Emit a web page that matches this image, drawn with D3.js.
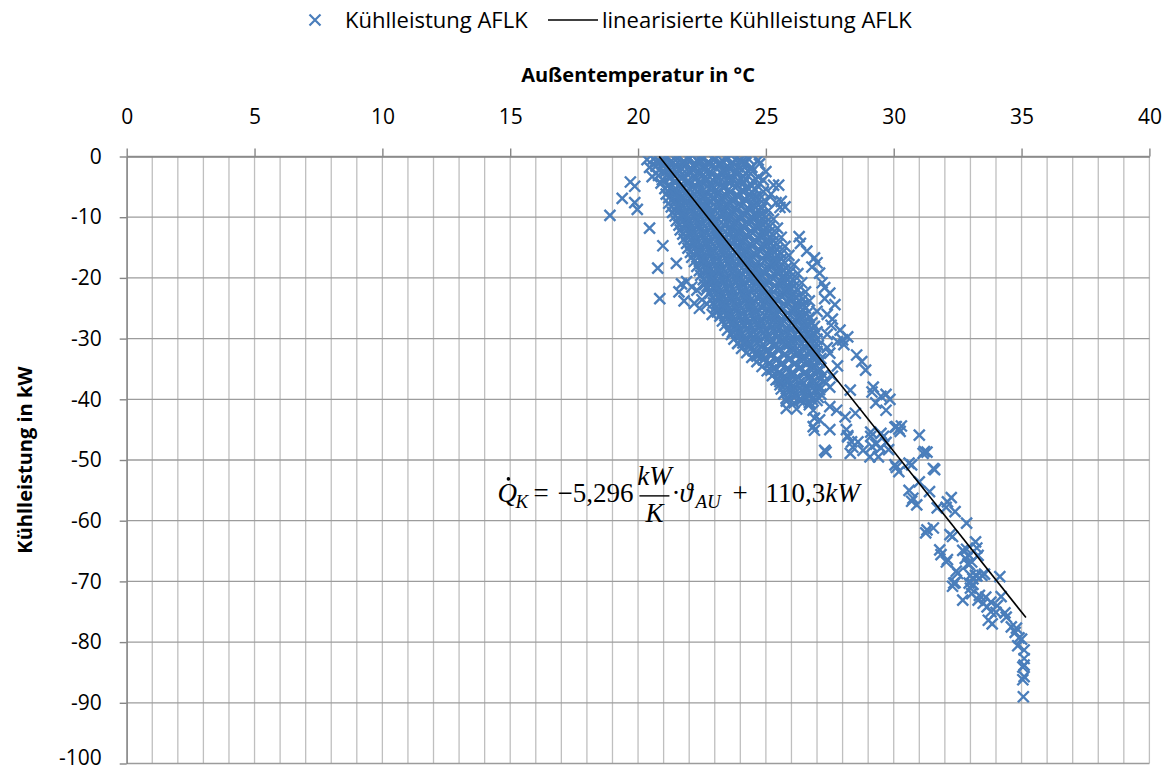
<!DOCTYPE html>
<html><head><meta charset="utf-8">
<script src="https://cdn.jsdelivr.net/npm/d3@7"></script>
<style>body{margin:0;background:#fff}</style>
</head><body><svg id="c" width="1171" height="773"></svg>
<script>
// ---------- data ----------
const xTicks = [0, 5, 10, 15, 20, 25, 30, 35, 40];
const yTicks = [0, -10, -20, -30, -40, -50, -60, -70, -80, -90, -100];
const seriesName = "Kühlleistung AFLK";
const trendName = "linearisierte Kühlleistung AFLK";
const xTitle = "Außentemperatur in °C";
const yTitle = "Kühlleistung in kW";
// regression line end points (temperature °C, power kW)
const trendTemp = [20.83, 35.17];
const trendPower = [0, -75.96];
// measured points [temperature °C, cooling power kW] – dense core
const densePoints = [
[20.35,-0.5],[20.6,-0.4],[20.85,-0.9],[21.1,-0.2],[21.3,-0.7],[21.55,-0.3],[21.8,-0.8],[22.0,-0.2],[22.3,-0.6],[22.5,-0.3],[22.75,-0.9],[23.0,-0.4],[23.3,-0.7],[23.5,-0.2],[23.8,-0.5],[24.05,-0.9],[24.3,-0.3],[24.7,-0.6],
[20.45,-1.8],[20.7,-1.6],[20.95,-1.2],[21.2,-1.9],[21.45,-1.4],[21.7,-2.0],[21.9,-1.3],[22.2,-1.7],[22.4,-1.1],[22.65,-1.8],[22.9,-1.5],[23.15,-1.2],[23.4,-1.9],[23.65,-1.4],[23.9,-1.7],[24.15,-1.2],[24.45,-1.8],
[20.55,-3.3],[20.8,-3.1],[21.05,-2.6],[21.3,-3.4],[21.55,-2.8],[21.8,-3.3],[22.05,-2.7],[22.3,-3.5],[22.55,-3.0],[22.8,-2.6],[23.05,-3.3],[23.3,-2.9],[23.55,-3.5],[23.8,-2.7],[24.1,-3.2],[24.4,-2.8],[24.7,-3.4],
[20.9,-4.4],[21.15,-4.9],[21.4,-4.2],[21.65,-4.7],[21.9,-4.3],[22.15,-5.0],[22.4,-4.5],[22.65,-4.1],[22.9,-4.8],[23.15,-4.4],[23.4,-5.0],[23.65,-4.2],[23.9,-4.7],[24.15,-4.3],[24.45,-4.9],[24.75,-4.4],
[21.1,-6.2],[21.35,-5.7],[21.6,-6.4],[21.85,-5.9],[22.1,-6.5],[22.35,-5.8],[22.6,-6.3],[22.85,-5.6],[23.1,-6.1],[23.35,-6.6],[23.6,-5.9],[23.85,-6.4],[24.1,-5.7],[24.35,-6.2],[24.6,-6.6],[24.9,-5.8],
[21.2,-7.7],[21.45,-7.2],[21.7,-7.9],[21.95,-7.4],[22.2,-8.0],[22.45,-7.3],[22.7,-7.8],[22.95,-7.1],[23.2,-7.6],[23.45,-8.1],[23.7,-7.4],[23.95,-7.9],[24.2,-7.2],[24.45,-7.7],[24.7,-8.0],[25.0,-7.4],
[21.35,-9.2],[21.6,-8.7],[21.85,-9.4],[22.1,-8.9],[22.35,-9.5],[22.6,-8.8],[22.85,-9.3],[23.1,-8.6],[23.35,-9.1],[23.6,-9.6],[23.85,-8.9],[24.1,-9.4],[24.35,-8.7],[24.6,-9.2],[24.85,-9.5],[25.1,-8.9],
[21.5,-10.6],[21.75,-10.1],[22.0,-10.8],[22.25,-10.3],[22.5,-10.9],[22.75,-10.2],[23.0,-10.7],[23.25,-10.0],[23.5,-10.5],[23.75,-11.0],[24.0,-10.3],[24.25,-10.8],[24.5,-10.1],[24.75,-10.6],[25.0,-10.9],[25.3,-10.3],
[21.65,-12.1],[21.9,-11.6],[22.15,-12.3],[22.4,-11.8],[22.65,-12.4],[22.9,-11.7],[23.15,-12.2],[23.4,-11.5],[23.65,-12.0],[23.9,-12.5],[24.15,-11.8],[24.4,-12.3],[24.65,-11.6],[24.9,-12.1],[25.15,-12.4],[25.45,-11.8],
[21.8,-13.6],[22.05,-13.1],[22.3,-13.8],[22.55,-13.3],[22.8,-13.9],[23.05,-13.2],[23.3,-13.7],[23.55,-13.0],[23.8,-13.5],[24.05,-14.0],[24.3,-13.3],[24.55,-13.8],[24.8,-13.1],[25.05,-13.6],[25.3,-13.9],[25.6,-13.3],
[21.95,-15.1],[22.2,-14.6],[22.45,-15.3],[22.7,-14.8],[22.95,-15.4],[23.2,-14.7],[23.45,-15.2],[23.7,-14.5],[23.95,-15.0],[24.2,-15.5],[24.45,-14.8],[24.7,-15.3],[24.95,-14.6],[25.2,-15.1],[25.45,-15.4],[25.75,-14.8],
[22.1,-16.6],[22.35,-16.1],[22.6,-16.8],[22.85,-16.3],[23.1,-16.9],[23.35,-16.2],[23.6,-16.7],[23.85,-16.0],[24.1,-16.5],[24.35,-17.0],[24.6,-16.3],[24.85,-16.8],[25.1,-16.1],[25.35,-16.6],[25.6,-16.9],[25.9,-16.3],
[22.3,-18.1],[22.55,-17.6],[22.8,-18.3],[23.05,-17.8],[23.3,-18.4],[23.55,-17.7],[23.8,-18.2],[24.05,-17.5],[24.3,-18.0],[24.55,-18.5],[24.8,-17.8],[25.05,-18.3],[25.3,-17.6],[25.55,-18.1],[25.8,-18.4],[26.1,-17.8],
[22.45,-19.6],[22.7,-19.1],[22.95,-19.8],[23.2,-19.3],[23.45,-19.9],[23.7,-19.2],[23.95,-19.7],[24.2,-19.0],[24.45,-19.5],[24.7,-20.0],[24.95,-19.3],[25.2,-19.8],[25.45,-19.1],[25.7,-19.6],[25.95,-19.9],[26.25,-19.3],
[22.6,-21.1],[22.85,-20.6],[23.1,-21.3],[23.35,-20.8],[23.6,-21.4],[23.85,-20.7],[24.1,-21.2],[24.35,-20.5],[24.6,-21.0],[24.85,-21.5],[25.1,-20.8],[25.35,-21.3],[25.6,-20.6],[25.85,-21.1],[26.1,-21.4],[26.4,-20.8],
[22.8,-22.6],[23.05,-22.1],[23.3,-22.8],[23.55,-22.3],[23.8,-22.9],[24.05,-22.2],[24.3,-22.7],[24.55,-22.0],[24.8,-22.5],[25.05,-23.0],[25.3,-22.3],[25.55,-22.8],[25.8,-22.1],[26.05,-22.6],[26.3,-22.9],[26.55,-22.3],
[22.95,-24.1],[23.2,-23.6],[23.45,-24.3],[23.7,-23.8],[23.95,-24.4],[24.2,-23.7],[24.45,-24.2],[24.7,-23.5],[24.95,-24.0],[25.2,-24.5],[25.45,-23.8],[25.7,-24.3],[25.95,-23.6],[26.2,-24.1],[26.45,-24.4],[26.7,-23.8],
[23.1,-25.6],[23.35,-25.1],[23.6,-25.8],[23.85,-25.3],[24.1,-25.9],[24.35,-25.2],[24.6,-25.7],[24.85,-25.0],[25.1,-25.5],[25.35,-26.0],[25.6,-25.3],[25.85,-25.8],[26.1,-25.1],[26.35,-25.6],[26.6,-25.9],
[23.3,-27.1],[23.55,-26.6],[23.8,-27.3],[24.05,-26.8],[24.3,-27.4],[24.55,-26.7],[24.8,-27.2],[25.05,-26.5],[25.3,-27.0],[25.55,-27.5],[25.8,-26.8],[26.05,-27.3],[26.3,-26.6],[26.55,-27.1],[26.8,-27.4],
[23.5,-28.6],[23.75,-28.1],[24.0,-28.8],[24.25,-28.3],[24.5,-28.9],[24.75,-28.2],[25.0,-28.7],[25.25,-28.0],[25.5,-28.5],[25.75,-29.0],[26.0,-28.3],[26.25,-28.8],[26.5,-28.1],[26.75,-28.6],[27.0,-28.9],
[23.75,-30.1],[24.0,-29.6],[24.25,-30.3],[24.5,-29.8],[24.75,-30.4],[25.0,-29.7],[25.25,-30.2],[25.5,-29.5],[25.75,-30.0],[26.0,-30.5],[26.25,-29.8],[26.5,-30.3],[26.75,-29.6],[27.0,-30.1],
[24.05,-31.6],[24.3,-31.1],[24.55,-31.8],[24.8,-31.3],[25.05,-31.9],[25.3,-31.2],[25.55,-31.7],[25.8,-31.0],[26.05,-31.5],[26.3,-32.0],[26.55,-31.3],[26.8,-31.8],[27.05,-31.1],
[24.45,-33.1],[24.7,-32.6],[24.95,-33.3],[25.2,-32.8],[25.45,-33.4],[25.7,-32.7],[25.95,-33.2],[26.2,-32.5],[26.45,-33.0],[26.7,-33.5],[26.95,-32.8],[27.15,-33.3],
[24.85,-34.6],[25.1,-34.1],[25.35,-34.8],[25.6,-34.3],[25.85,-34.9],[26.1,-34.2],[26.35,-34.7],[26.6,-34.0],[26.85,-34.5],[27.1,-35.0],
[25.25,-36.1],[25.5,-35.6],[25.75,-36.3],[26.0,-35.8],[26.25,-36.4],[26.5,-35.7],[26.75,-36.2],[27.0,-35.5],[27.25,-36.0],
[25.55,-37.6],[25.8,-37.1],[26.05,-37.8],[26.3,-37.3],[26.55,-37.9],[26.8,-37.2],[27.05,-37.7],[27.3,-37.0],
[25.7,-39.1],[25.95,-38.6],[26.2,-39.3],[26.45,-38.8],[26.7,-39.4],[26.95,-38.7],[27.15,-39.2],
[25.8,-40.3],[26.1,-40.6],[26.4,-40.1],[26.7,-40.5],[27.0,-40.2],
[20.72,-0.9],[20.98,-0.5],[21.23,-1.1],[21.48,-0.6],[21.72,-1.0],[21.97,-0.5],[22.22,-1.2],[22.47,-0.7],[22.72,-1.1],[22.97,-0.6],[23.22,-1.0],[23.47,-0.5],[23.72,-1.1],[23.97,-0.7],[24.22,-1.0],
[20.82,-2.3],[21.08,-2.0],[21.33,-2.6],[21.58,-2.1],[21.83,-2.5],[22.08,-2.0],[22.33,-2.6],[22.58,-2.2],[22.83,-2.5],[23.08,-2.0],[23.33,-2.4],[23.58,-2.1],[23.83,-2.6],[24.08,-2.2],[24.33,-2.5],
[20.95,-3.8],[21.2,-3.5],[21.45,-4.1],[21.7,-3.6],[21.95,-4.0],[22.2,-3.5],[22.45,-4.1],[22.7,-3.7],[22.95,-4.0],[23.2,-3.5],[23.45,-3.9],[23.7,-3.6],[23.95,-4.1],[24.2,-3.7],[24.5,-4.0],
[21.05,-5.3],[21.3,-5.0],[21.55,-5.6],[21.8,-5.1],[22.05,-5.5],[22.3,-5.0],[22.55,-5.6],[22.8,-5.2],[23.05,-5.5],[23.3,-5.0],[23.55,-5.4],[23.8,-5.1],[24.05,-5.6],[24.3,-5.2],[24.6,-5.5],
[21.2,-6.8],[21.45,-6.5],[21.7,-7.1],[21.95,-6.6],[22.2,-7.0],[22.45,-6.5],[22.7,-7.1],[22.95,-6.7],[23.2,-7.0],[23.45,-6.5],[23.7,-6.9],[23.95,-6.6],[24.2,-7.1],[24.45,-6.7],[24.75,-7.0],
[21.3,-8.3],[21.55,-8.0],[21.8,-8.6],[22.05,-8.1],[22.3,-8.5],[22.55,-8.0],[22.8,-8.6],[23.05,-8.2],[23.3,-8.5],[23.55,-8.0],[23.8,-8.4],[24.05,-8.1],[24.3,-8.6],[24.55,-8.2],[24.85,-8.5],
[21.45,-9.8],[21.7,-9.5],[21.95,-10.1],[22.2,-9.6],[22.45,-10.0],[22.7,-9.5],[22.95,-10.1],[23.2,-9.7],[23.45,-10.0],[23.7,-9.5],[23.95,-9.9],[24.2,-9.6],[24.45,-10.1],[24.7,-9.7],[25.0,-10.0],
[21.6,-11.3],[21.85,-11.0],[22.1,-11.6],[22.35,-11.1],[22.6,-11.5],[22.85,-11.0],[23.1,-11.6],[23.35,-11.2],[23.6,-11.5],[23.85,-11.0],[24.1,-11.4],[24.35,-11.1],[24.6,-11.6],[24.85,-11.2],[25.15,-11.5],
[21.75,-12.8],[22.0,-12.5],[22.25,-13.1],[22.5,-12.6],[22.75,-13.0],[23.0,-12.5],[23.25,-13.1],[23.5,-12.7],[23.75,-13.0],[24.0,-12.5],[24.25,-12.9],[24.5,-12.6],[24.75,-13.1],[25.0,-12.7],[25.3,-13.0],
[21.9,-14.3],[22.15,-14.0],[22.4,-14.6],[22.65,-14.1],[22.9,-14.5],[23.15,-14.0],[23.4,-14.6],[23.65,-14.2],[23.9,-14.5],[24.15,-14.0],[24.4,-14.4],[24.65,-14.1],[24.9,-14.6],[25.15,-14.2],[25.45,-14.5],
[22.05,-15.8],[22.3,-15.5],[22.55,-16.1],[22.8,-15.6],[23.05,-16.0],[23.3,-15.5],[23.55,-16.1],[23.8,-15.7],[24.05,-16.0],[24.3,-15.5],[24.55,-15.9],[24.8,-15.6],[25.05,-16.1],[25.3,-15.7],[25.6,-16.0],
[22.2,-17.3],[22.45,-17.0],[22.7,-17.6],[22.95,-17.1],[23.2,-17.5],[23.45,-17.0],[23.7,-17.6],[23.95,-17.2],[24.2,-17.5],[24.45,-17.0],[24.7,-17.4],[24.95,-17.1],[25.2,-17.6],[25.45,-17.2],[25.75,-17.5],
[22.4,-18.8],[22.65,-18.5],[22.9,-19.1],[23.15,-18.6],[23.4,-19.0],[23.65,-18.5],[23.9,-19.1],[24.15,-18.7],[24.4,-19.0],[24.65,-18.5],[24.9,-18.9],[25.15,-18.6],[25.4,-19.1],[25.65,-18.7],[25.95,-19.0],
[22.55,-20.3],[22.8,-20.0],[23.05,-20.6],[23.3,-20.1],[23.55,-20.5],[23.8,-20.0],[24.05,-20.6],[24.3,-20.2],[24.55,-20.5],[24.8,-20.0],[25.05,-20.4],[25.3,-20.1],[25.55,-20.6],[25.8,-20.2],[26.1,-20.5],
[22.7,-21.8],[22.95,-21.5],[23.2,-22.1],[23.45,-21.6],[23.7,-22.0],[23.95,-21.5],[24.2,-22.1],[24.45,-21.7],[24.7,-22.0],[24.95,-21.5],[25.2,-21.9],[25.45,-21.6],[25.7,-22.1],[25.95,-21.7],[26.25,-22.0],
[22.9,-23.3],[23.15,-23.0],[23.4,-23.6],[23.65,-23.1],[23.9,-23.5],[24.15,-23.0],[24.4,-23.6],[24.65,-23.2],[24.9,-23.5],[25.15,-23.0],[25.4,-23.4],[25.65,-23.1],[25.9,-23.6],[26.15,-23.2],[26.45,-23.5],
[23.05,-24.8],[23.3,-24.5],[23.55,-25.1],[23.8,-24.6],[24.05,-25.0],[24.3,-24.5],[24.55,-25.1],[24.8,-24.7],[25.05,-25.0],[25.3,-24.5],[25.55,-24.9],[25.8,-24.6],[26.05,-25.1],[26.3,-24.7],[26.55,-25.0],
[23.2,-26.3],[23.45,-26.0],[23.7,-26.6],[23.95,-26.1],[24.2,-26.5],[24.45,-26.0],[24.7,-26.6],[24.95,-26.2],[25.2,-26.5],[25.45,-26.0],[25.7,-26.4],[25.95,-26.1],[26.2,-26.6],[26.45,-26.2],[26.7,-26.5],
[23.4,-27.8],[23.65,-27.5],[23.9,-28.1],[24.15,-27.6],[24.4,-28.0],[24.65,-27.5],[24.9,-28.1],[25.15,-27.7],[25.4,-28.0],[25.65,-27.5],[25.9,-27.9],[26.15,-27.6],[26.4,-28.1],[26.65,-27.7],[26.9,-28.0],
[23.65,-29.3],[23.9,-29.0],[24.15,-29.6],[24.4,-29.1],[24.65,-29.5],[24.9,-29.0],[25.15,-29.6],[25.4,-29.2],[25.65,-29.5],[25.9,-29.0],[26.15,-29.4],[26.4,-29.1],[26.65,-29.6],[26.9,-29.2],
[23.9,-30.8],[24.15,-30.5],[24.4,-31.1],[24.65,-30.6],[24.9,-31.0],[25.15,-30.5],[25.4,-31.1],[25.65,-30.7],[25.9,-31.0],[26.15,-30.5],[26.4,-30.9],[26.65,-30.6],[26.9,-31.1],
[24.25,-32.3],[24.5,-32.0],[24.75,-32.6],[25.0,-32.1],[25.25,-32.5],[25.5,-32.0],[25.75,-32.6],[26.0,-32.2],[26.25,-32.5],[26.5,-32.0],[26.75,-32.4],[27.0,-32.1],
[24.65,-33.8],[24.9,-33.5],[25.15,-34.1],[25.4,-33.6],[25.65,-34.0],[25.9,-33.5],[26.15,-34.1],[26.4,-33.7],[26.65,-34.0],[26.9,-33.5],[27.1,-33.9],
[25.05,-35.3],[25.3,-35.0],[25.55,-35.6],[25.8,-35.1],[26.05,-35.5],[26.3,-35.0],[26.55,-35.6],[26.8,-35.2],[27.05,-35.5],
[25.4,-36.8],[25.65,-36.5],[25.9,-37.1],[26.15,-36.6],[26.4,-37.0],[26.65,-36.5],[26.9,-37.1],[27.15,-36.7],
[25.6,-38.3],[25.85,-38.0],[26.1,-38.6],[26.35,-38.1],[26.6,-38.5],[26.85,-38.0],[27.1,-38.4],
[25.8,-39.8],[26.05,-39.5],[26.3,-40.1],[26.55,-39.6],[26.8,-40.0],[27.05,-39.7]
];
// measured points – scattered outer points
const sparsePoints = [
[18.9,-9.7],[19.38,-6.9],[19.7,-4.2],[19.87,-4.9],[19.87,-7.6],[19.97,-8.7],[20.45,-11.8],[20.97,-14.7],[20.77,-18.4],[21.5,-17.6],[20.85,-23.4],
[21.9,-20.6],[21.6,-22.3],[22.3,-22.0],[22.5,-23.6],[22.7,-21.4],[22.7,-24.3],[22.9,-26.0],[22.2,-24.2],[21.8,-23.8],[22.1,-21.5],[23.1,-25.2],[21.7,-21.0],[22.4,-25.0],
[23.7,-28.9],[24.1,-30.7],[24.6,-32.7],[25.55,-37.1],[23.9,-30.8],[24.9,-32.7],[25.5,-36.7],[25.2,-35.2],[24.65,-32.9],
[24.9,-3.9],[25.3,-4.7],[25.5,-4.7],[25.4,-7.6],[25.55,-8.4],[25.6,-7.4],[25.75,-8.3],[24.4,-2.0],[24.75,-1.2],[25.0,-2.5],[25.2,-6.2],
[26.3,-13.2],[26.35,-14.3],[26.6,-15.6],[26.9,-16.7],[27.0,-17.5],[26.8,-18.2],[27.1,-19.2],[27.2,-20.8],[27.5,-22.5],[27.7,-24.4],[27.3,-23.4],[27.9,-28.6],[28.2,-29.7],[27.6,-26.8],[27.4,-26.0],[27.0,-25.5],[27.3,-21.6],[27.55,-27.8],[27.8,-30.5],[27.4,-29.3],
[28.0,-30.2],[28.05,-31.0],[27.4,-31.5],[27.5,-32.4],[27.8,-34.5],[28.55,-32.7],[28.75,-33.8],[28.9,-35.2],[29.2,-38.0],[29.15,-38.8],[29.7,-39.2],[29.85,-40.0],[29.3,-40.6],[29.7,-41.8],[28.3,-38.5],[29.5,-39.5],[27.1,-35.0],[27.6,-36.2],[27.5,-38.0],
[26.85,-44.5],[26.9,-45.1],[27.3,-48.4],[28.2,-46.0],[28.35,-47.0],[28.6,-47.0],[28.8,-48.4],[29.1,-46.1],[29.6,-46.1],[27.5,-41.2],[27.77,-41.8],[28.1,-42.9],[28.5,-42.3],[26.85,-41.8],[26.7,-40.9],[27.1,-43.4],[28.15,-45.0],[26.9,-43.1],[27.5,-45.0],[28.2,-46.2],[28.4,-47.9],[29.5,-48.0],[27.35,-48.7],[28.3,-48.9],[29.07,-49.5],[26.2,-41.6],[25.8,-41.5],
[29.1,-45.4],[29.5,-45.6],[29.3,-47.4],[29.15,-47.8],[29.4,-49.5],[29.7,-47.1],[29.8,-48.3],
[30.05,-44.6],[30.25,-45.3],[30.2,-44.9],[30.3,-44.4],[30.1,-44.5],
[31.0,-45.9],[31.2,-48.6],[31.3,-48.7],[31.55,-51.4],[31.6,-51.6],[31.15,-48.9],
[30.05,-50.8],[30.2,-51.9],[30.1,-51.2],[30.7,-50.8],[30.6,-50.5],
[31.0,-53.6],[31.4,-55.2],[30.6,-55.0],[30.75,-56.3],[30.9,-57.4],[30.7,-56.8],
[32.1,-56.9],[32.25,-56.2],[32.05,-57.8],[32.4,-58.5],[31.7,-57.9],
[31.3,-61.5],[31.55,-61.2],[31.25,-62.0],[32.85,-60.4],[32.3,-62.6],[32.2,-62.3],
[33.2,-63.5],[33.25,-64.5],[31.8,-64.8],[31.85,-65.6],[32.1,-66.4],
[32.7,-64.9],[32.85,-64.7],[32.8,-66.2],[32.95,-65.7],[32.95,-67.2],[33.3,-65.7],
[32.45,-68.3],[32.35,-70.3],[32.3,-70.8],[33.0,-69.0],[33.1,-69.6],[33.2,-69.0],[32.95,-70.3],[33.55,-68.8],[34.15,-69.2],
[32.06,-66.8],[32.9,-67.1],[33.05,-66.8],[32.5,-68.7],[33.25,-69.1],[33.45,-69.0],[32.4,-70.2],[33.0,-71.1],[33.1,-70.5],[33.05,-72.0],[32.7,-73.1],[33.35,-72.3],[33.3,-73.1],[33.5,-73.6],[33.65,-74.2],[33.6,-72.6],[33.8,-73.4],[33.8,-75.0],[33.7,-76.4],[33.85,-77.0],[34.0,-75.1],[34.05,-74.0],[34.2,-72.5],[34.35,-75.2],[34.4,-75.9],[34.6,-77.5],[34.8,-77.7],[34.75,-78.4],[34.9,-79.3],[35.0,-79.5],[34.85,-80.6],[35.1,-81.3],[35.1,-82.7],[35.05,-84.1],[35.1,-83.8],[35.1,-85.7],[35.05,-86.2],[35.07,-89.0]
];
// equation annotation anchor (data coordinates)
const eqAnchor = [14.5, -56.9];

// ---------- chart ----------
const svg = d3.select("#c");
const FONT = "'Open Sans', sans-serif";
const x = d3.scaleLinear().domain([0, 40]).range([126.7, 1149.4]);
const y = d3.scaleLinear().domain([0, -100]).range([156.5, 763.5]);
const blue = "#4a7ebb";

// grid
svg.append("g").selectAll("line").data(x.ticks(40)).join("line")
  .attr("x1", d => x(d)).attr("x2", d => x(d))
  .attr("y1", y(0)).attr("y2", y(-100))
  .attr("stroke", "#bfbfbf").attr("stroke-width", 1.3);
svg.append("g").selectAll("line").data(yTicks).join("line")
  .attr("x1", x(0)).attr("x2", x(40))
  .attr("y1", d => y(d)).attr("y2", d => y(d))
  .attr("stroke", "#9c9c9c").attr("stroke-width", 1.3);

// axes
const gx = svg.append("g").attr("transform", `translate(0,${y(0)})`)
  .call(d3.axisTop(x).tickValues(xTicks).tickFormat(d => String(d))
    .tickSizeInner(8).tickSizeOuter(0).tickPadding(25));
const gy = svg.append("g").attr("transform", `translate(${x(0)},0)`)
  .call(d3.axisLeft(y).tickValues(yTicks).tickFormat(d => String(d))
    .tickSizeInner(7).tickSizeOuter(0).tickPadding(18));
[gx, gy].forEach(g => {
  g.attr("font-family", FONT).attr("font-size", 21);
  g.select(".domain").attr("stroke", "#868686").attr("stroke-width", 1.4);
  g.selectAll(".tick line").attr("stroke", "#868686").attr("stroke-width", 1.4);
  g.selectAll(".tick text").attr("fill", "#000");
});
gy.selectAll(".tick text").filter(d => d === -100).attr("dy", "0.05em");

// axis titles
svg.append("text").attr("x", x(20)).attr("y", 82).attr("text-anchor", "middle")
  .attr("font-family", FONT).attr("font-weight", "bold").attr("font-size", 20).text(xTitle);
svg.append("text").attr("transform", `translate(32,${y(-50)}) rotate(-90)`)
  .attr("text-anchor", "middle").attr("font-family", FONT)
  .attr("font-weight", "bold").attr("font-size", 20).text(yTitle);

// points
svg.append("clipPath").attr("id", "plotclip").append("rect")
  .attr("x", x(0)).attr("y", y(0)).attr("width", x(40) - x(0)).attr("height", y(-100) - y(0));
const cross = "M-5.5,-5.5L5.5,5.5M-5.5,5.5L5.5,-5.5";
svg.append("g").attr("clip-path", "url(#plotclip)")
  .selectAll("path").data(densePoints.concat(sparsePoints)).join("path")
  .attr("d", cross)
  .attr("transform", d => `translate(${x(d[0])},${y(d[1])})`)
  .attr("fill", "none").attr("stroke", blue).attr("stroke-width", 2.4);

// trend line
const trend = trendTemp.map((t, i) => [t, trendPower[i]]);
svg.append("path").datum(trend)
  .attr("d", d3.line().x(d => x(d[0])).y(d => y(d[1])))
  .attr("stroke", "#000").attr("stroke-width", 1.6).attr("fill", "none");

// equation
const ex = x(eqAnchor[0]), ey = y(eqAnchor[1]);
const eq = svg.append("g").attr("transform", `translate(${ex},${ey})`)
  .attr("font-family", "'Liberation Serif', 'DejaVu Serif', serif").attr("font-size", 27);
eq.append("text").attr("x", 0).attr("y", 0).attr("font-style", "italic").text("Q");
eq.append("circle").attr("cx", 11).attr("cy", -23).attr("r", 1.8).attr("fill", "#000");
eq.append("text").attr("x", 18).attr("y", 6).attr("font-style", "italic").attr("font-size", 19).text("K");
eq.append("text").attr("x", 36).attr("y", 0).text("=");
eq.append("text").attr("x", 60).attr("y", 0).text("\u22125,296");
eq.append("text").attr("x", 157).attr("y", -17).attr("text-anchor", "middle").attr("font-style", "italic").text("kW");
eq.append("line").attr("x1", 142).attr("x2", 172).attr("y1", -6).attr("y2", -6).attr("stroke", "#000").attr("stroke-width", 1.4);
eq.append("text").attr("x", 157).attr("y", 20).attr("text-anchor", "middle").attr("font-style", "italic").text("K");
eq.append("text").attr("x", 174).attr("y", 0).text("\u00b7");
eq.append("text").attr("x", 182).attr("y", 0).attr("font-style", "italic").text("\u03d1");
eq.append("text").attr("x", 198).attr("y", 6).attr("font-style", "italic").attr("font-size", 19).text("AU");
eq.append("text").attr("x", 235).attr("y", 0).text("+");
eq.append("text").attr("x", 268).attr("y", 0).text("110,3").append("tspan").attr("font-style", "italic").text("kW");

// legend
const lg = svg.append("g").attr("font-family", FONT).attr("font-size", 22);
lg.append("path").attr("d", cross).attr("transform", "translate(315,20)")
  .attr("fill", "none").attr("stroke", blue).attr("stroke-width", 2.2);
lg.append("text").attr("x", 345).attr("y", 28).text(seriesName);
lg.append("line").attr("x1", 548).attr("x2", 598).attr("y1", 20).attr("y2", 20)
  .attr("stroke", "#000").attr("stroke-width", 1.6);
lg.append("text").attr("x", 602).attr("y", 28).text(trendName);
</script>
</body></html>
